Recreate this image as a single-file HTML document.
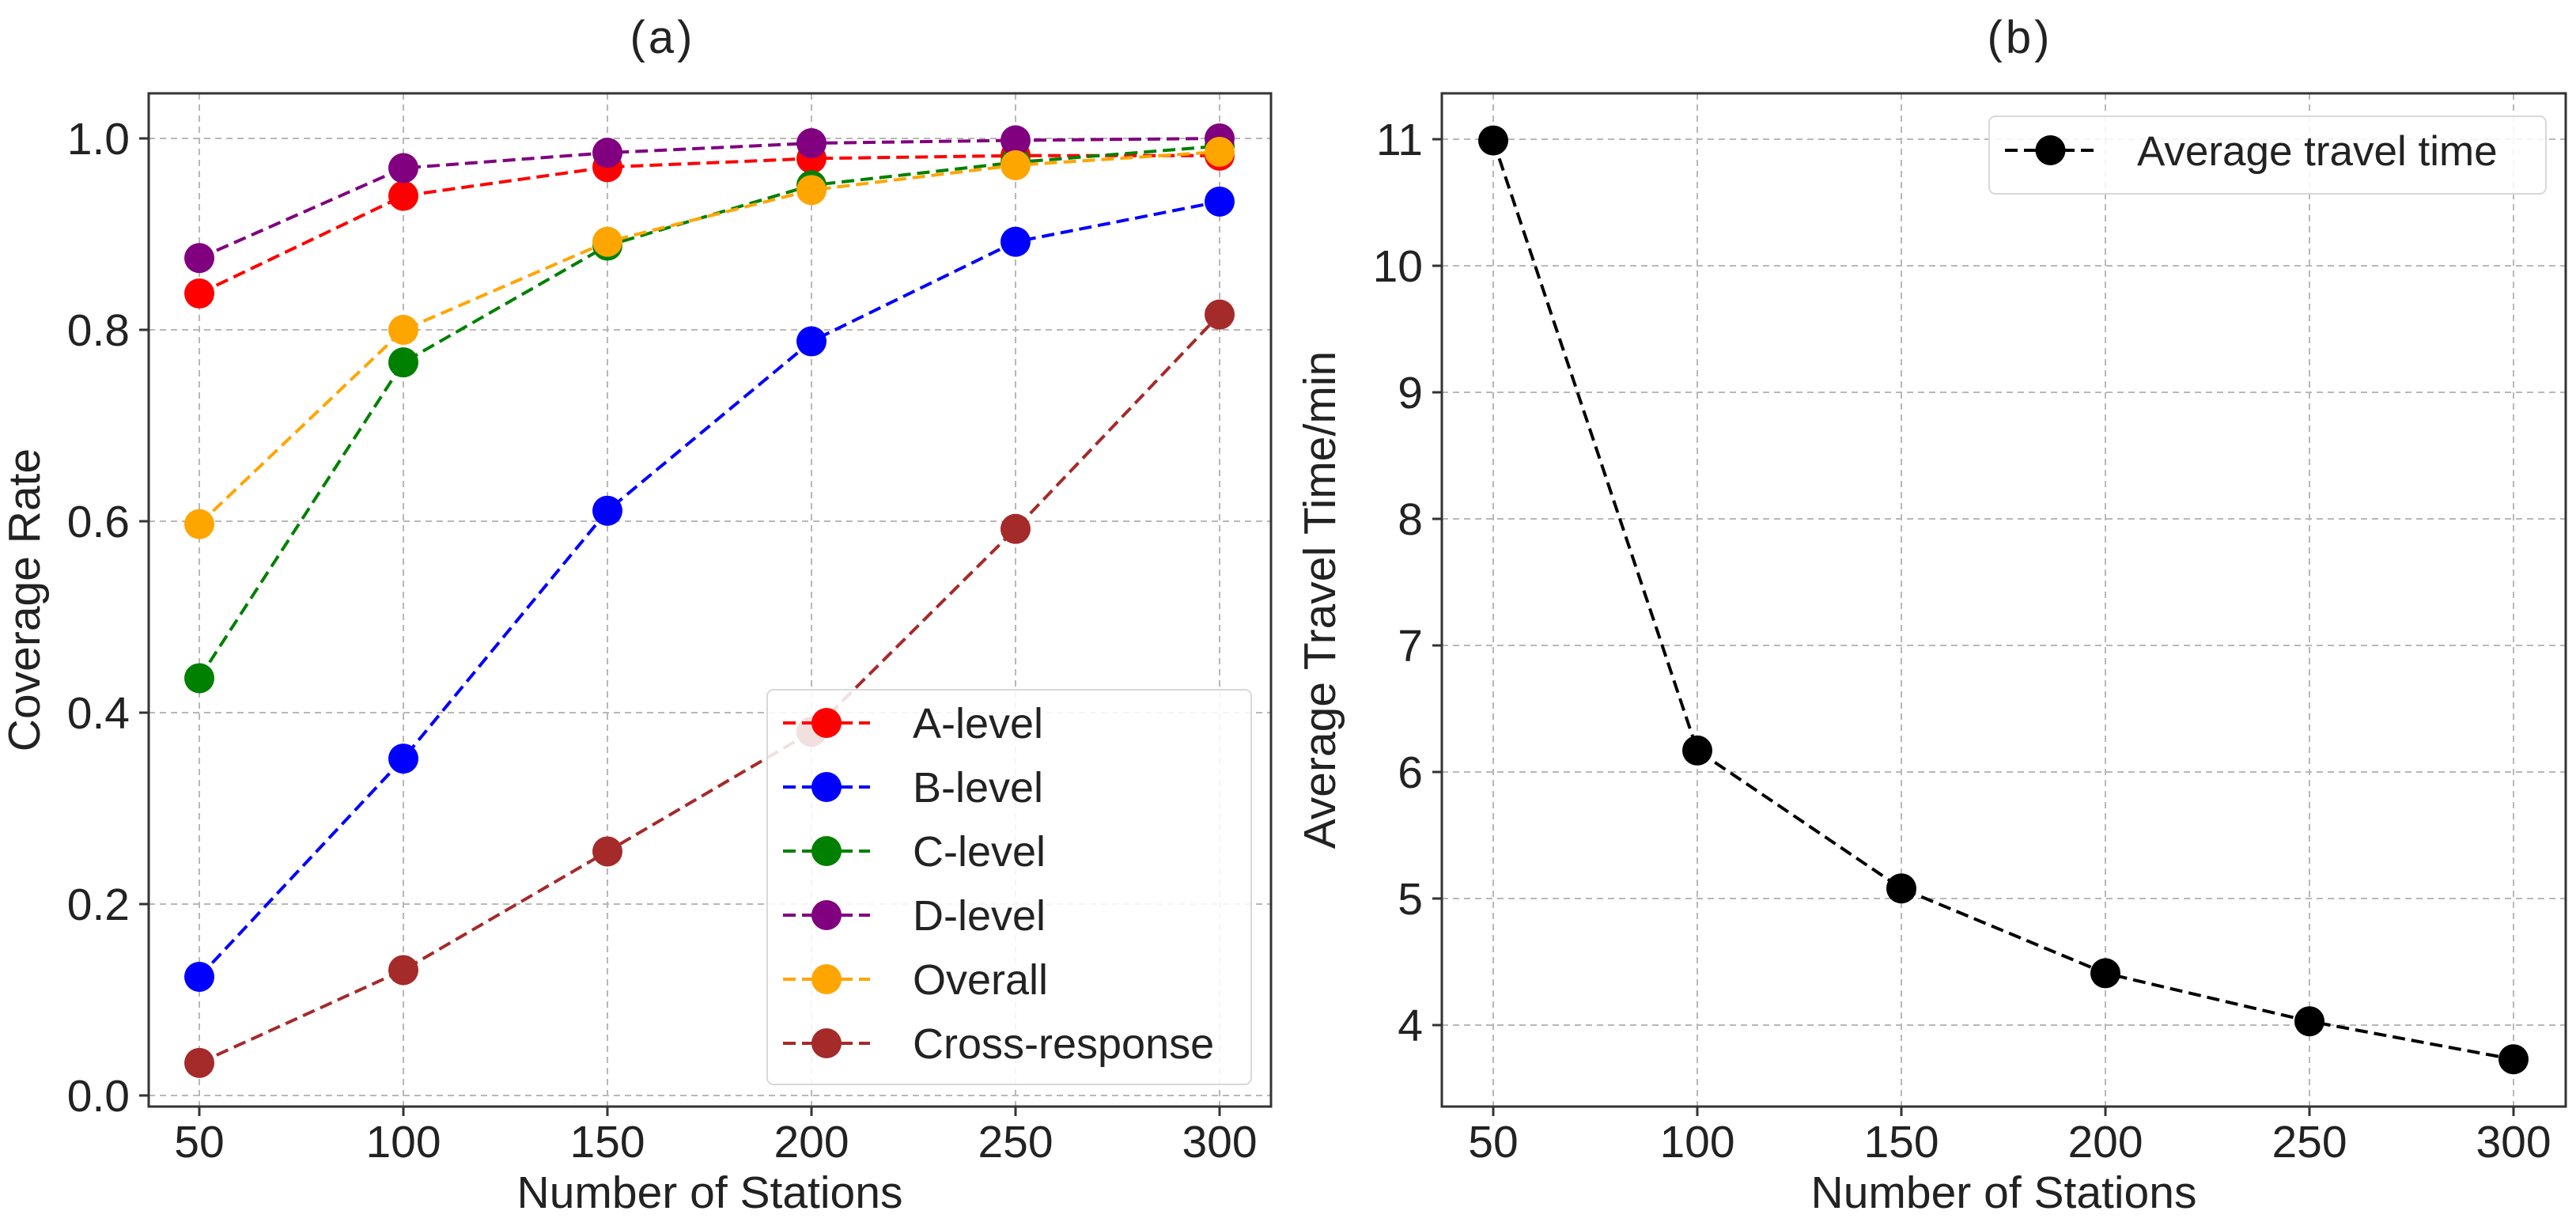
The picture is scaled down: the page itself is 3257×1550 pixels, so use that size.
<!DOCTYPE html>
<html><head><meta charset="utf-8">
<style>
html,body{margin:0;padding:0;background:#fff;}
svg{display:block;font-family:"Liberation Sans",Arial,sans-serif;}
</style></head>
<body>
<svg id="fig" width="3257" height="1550" viewBox="0 0 3257 1550" xmlns="http://www.w3.org/2000/svg"></svg>
<script>
// ---- data ----
const stations = [50, 100, 150, 200, 250, 300];
const aLevel = [0.838, 0.940, 0.970, 0.979, 0.982, 0.982];
const bLevel = [0.124, 0.352, 0.611, 0.788, 0.892, 0.934];
const cLevel = [0.436, 0.766, 0.888, 0.951, 0.975, 0.992];
const dLevel = [0.875, 0.969, 0.985, 0.995, 0.998, 1.000];
const overall = [0.597, 0.800, 0.892, 0.946, 0.972, 0.986];
const crossResponse = [0.034, 0.131, 0.255, 0.380, 0.592, 0.816];
const travelTime = [10.99, 6.17, 5.08, 4.41, 4.03, 3.73];
const xTicks = [50, 100, 150, 200, 250, 300];
const yTicksA = [0.0, 0.2, 0.4, 0.6, 0.8, 1.0];
const yTickLabelsA = ["0.0", "0.2", "0.4", "0.6", "0.8", "1.0"];
const yTicksB = [4, 5, 6, 7, 8, 9, 10, 11];
const seriesNamesA = ["A-level", "B-level", "C-level", "D-level", "Overall", "Cross-response"];
const seriesColorsA = ["#ff0000", "#0000ff", "#008000", "#800080", "#ffa500", "#a52a2a"];

const NS = "http://www.w3.org/2000/svg";
const svg = document.getElementById("fig");
function el(tag, attrs, parent, text) {
  const e = document.createElementNS(NS, tag);
  for (const k in attrs) e.setAttribute(k, attrs[k]);
  if (text !== undefined) e.textContent = text;
  (parent || svg).appendChild(e);
  return e;
}

function makePanel(cfg) {
  const g = el("g", {});
  
  
  const L = cfg.left, R = cfg.right, T = 118, B = 1399;
  const x = v => cfg.x0 + (v - 50) / 50 * 258;
  const y = v => cfg.yRef + (cfg.yRefVal - v) * cfg.yScale;
  xTicks.forEach(t => {
    const gl = el("line", {x1: x(t), x2: x(t), y1: T, y2: B, stroke: "#b8b8b8", "stroke-width": 2, "stroke-dasharray": "8 6"}, g);
    
    
  });
  cfg.yTicks.forEach(t => {
    const gl = el("line", {x1: L, x2: R, y1: y(t), y2: y(t), stroke: "#b8b8b8", "stroke-width": 2, "stroke-dasharray": "8 6"}, g);
    
    
  });
  xTicks.forEach(t => {
    el("line", {x1: x(t), x2: x(t), y1: B, y2: B + 12, stroke: "#333", "stroke-width": 3}, g);
    const tl = el("text", {x: x(t), y: 1463, "font-size": 57, "text-anchor": "middle", fill: "#222"}, g, String(t));
    
    
  });
  cfg.yTicks.forEach((t, i) => {
    el("line", {x1: L - 12, x2: L, y1: y(t), y2: y(t), stroke: "#333", "stroke-width": 3}, g);
    const tl = el("text", {x: L - 24, y: y(t) + 20, "font-size": 57, "text-anchor": "end", fill: "#222"}, g, cfg.yLabels[i]);
    
    
  });
  cfg.series.forEach((s, si) => {
    const sg = el("g", {}, g);
    
    
    const pts = s.values.map((v, i) => x(stations[i]) + "," + y(v)).join(" ");
    el("polyline", {points: pts, fill: "none", stroke: s.color, "stroke-width": 4, "stroke-dasharray": "16 8"}, sg);
    s.values.forEach((v, i) => {
      const c = el("circle", {cx: x(stations[i]), cy: y(v), r: 19, fill: s.color}, sg);
      
      
    });
  });
  const fr = el("rect", {x: L, y: T, width: R - L, height: B - T, fill: "none", stroke: "#333", "stroke-width": 3}, g);
  
  
  const xl = el("text", {x: (L + R) / 2, y: 1527, "font-size": 57, "text-anchor": "middle", fill: "#222"}, g, "Number of Stations");
  
  
  const yl = el("text", {x: 0, y: 0, "font-size": 57, "text-anchor": "middle", fill: "#222", transform: "translate(" + cfg.ylx + "," + (T + B) / 2 + ") rotate(-90)"}, g, cfg.ylabel);
  
  
  const tt = el("text", {x: cfg.titleX, y: 67, "font-size": 58, "text-anchor": "middle", fill: "#222", "letter-spacing": 4}, g, cfg.title);
  
  
  const lg = el("g", {}, g);
  
  
  const lb = cfg.legend;
  el("rect", {x: lb.x, y: lb.y, width: lb.w, height: lb.h, rx: 8, fill: "rgba(255,255,255,0.85)", stroke: "#d8d8d8", "stroke-width": 2}, lg);
  cfg.series.forEach((s, i) => {
    const ey = lb.firstY + i * lb.step;
    const eg = el("g", {}, lg);
    
    
    el("line", {x1: lb.lineX1, x2: lb.lineX2, y1: ey, y2: ey, stroke: s.color, "stroke-width": 4, "stroke-dasharray": "16 8"}, eg);
    el("circle", {cx: (lb.lineX1 + lb.lineX2) / 2, cy: ey, r: 19, fill: s.color}, eg);
    el("text", {x: lb.textX, y: ey + 19, "font-size": lb.fs, fill: "#222"}, eg, s.label);
  });
}

makePanel({
  name: "panel-a-coverage-rate", left: 188, right: 1607, x0: 252,
  yRef: 175, yRefVal: 1.0, yScale: 1210,
  yTicks: yTicksA, yLabels: yTickLabelsA,
  ylabel: "Coverage Rate", ylx: 50, title: "(a)", titleX: 838,
  series: seriesNamesA.map((n, i) => ({label: n, color: seriesColorsA[i],
    values: [aLevel, bLevel, cLevel, dLevel, overall, crossResponse][i]})),
  legend: {x: 970, y: 872, w: 612, h: 499, firstY: 914, step: 81, lineX1: 990, lineX2: 1100, textX: 1154, fs: 54}
});

makePanel({
  name: "panel-b-travel-time", left: 1823, right: 3244, x0: 1888,
  yRef: 176, yRefVal: 11, yScale: 160,
  yTicks: yTicksB, yLabels: yTicksB.map(String),
  ylabel: "Average Travel Time/min", ylx: 1688, title: "(b)", titleX: 2554,
  series: [{label: "Average travel time", color: "#000000", values: travelTime}],
  legend: {x: 2515, y: 147, w: 704, h: 98, firstY: 190, step: 0, lineX1: 2535, lineX2: 2650, textX: 2702, fs: 53}
});
</script>
</body></html>
